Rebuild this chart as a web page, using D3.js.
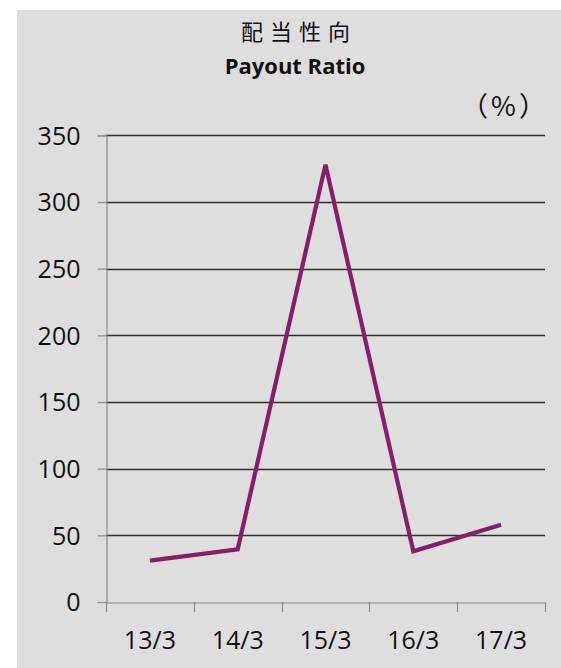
<!DOCTYPE html>
<html>
<head>
<meta charset="utf-8">
<script src="https://cdn.jsdelivr.net/npm/d3@7"></script>
<style>
html,body{margin:0;padding:0;background:#fff;}
svg{display:block;}
</style>
</head>
<body>
<svg id="chart" width="561" height="668"></svg>
<script>
const categories = ["13/3","14/3","15/3","16/3","17/3"];
const payoutRatio = [31, 39.5, 328, 38, 58];
const yTicks = [0,50,100,150,200,250,300,350];
const titleJa = "配当性向";
const titleEn = "Payout Ratio";
const unitLabel = "（%）";

(function(){
const svg = d3.select("#chart");
const W = 561, H = 668;
const font = "'Open Sans','Noto Sans CJK JP',sans-serif";

svg.append("rect").attr("x",17).attr("y",10).attr("width",W-17).attr("height",H-10).attr("fill","#dedede");

const pLeft = 106, pRight = 545, pTop = 135.3, pBottom = 602;
const x = d3.scaleBand().domain(categories).range([pLeft,pRight]);
const y = d3.scaleLinear().domain([0,350]).range([pBottom,pTop]);

// gridlines
svg.append("g").selectAll("line").data(yTicks.filter(d=>d>0)).join("line")
  .attr("x1",pLeft).attr("x2",pRight).attr("y1",d=>Math.round(y(d))+0.5).attr("y2",d=>Math.round(y(d))+0.5)
  .attr("stroke","#303030").attr("stroke-width",1.3);

// y axis
const yAxis = d3.axisLeft(y).tickValues(yTicks).tickSize(9).tickPadding(17);
const gy = svg.append("g").attr("transform",`translate(${pLeft+0.5},0)`).call(yAxis);
gy.select(".domain").attr("stroke","#8c8c8c").attr("stroke-width",1.2);
gy.selectAll(".tick line").attr("stroke","#8c8c8c").attr("stroke-width",1.2);
gy.selectAll(".tick text").attr("font-family",font).attr("font-size",25).attr("fill","#111").attr("dy","0.35em");

// x axis
const xAxis = d3.axisBottom(x).tickSize(0).tickPadding(0);
const gx = svg.append("g").attr("transform",`translate(0,${pBottom+0.5})`).call(xAxis);
gx.select(".domain").attr("stroke","#8c8c8c").attr("stroke-width",1.2);
gx.selectAll(".tick text").attr("font-family",font).attr("font-size",25).attr("fill","#111").attr("y",38).attr("dy","0.35em");
const boundaries = categories.map(c=>x(c)).concat([x(categories[categories.length-1])+x.bandwidth()]);
svg.append("g").selectAll("line").data(boundaries).join("line")
  .attr("x1",d=>Math.round(d)+0.5).attr("x2",d=>Math.round(d)+0.5)
  .attr("y1",pBottom).attr("y2",pBottom+10)
  .attr("stroke","#8c8c8c").attr("stroke-width",1.2);

// line
const line = d3.line().x((d,i)=>x(categories[i])+x.bandwidth()/2).y(d=>y(d));
svg.append("path").datum(payoutRatio).attr("d",line)
  .attr("fill","none").attr("stroke","#861f69").attr("stroke-width",4.2)
  .attr("stroke-linejoin","miter").attr("stroke-linecap","butt");

// titles
svg.append("text").attr("x",299).attr("y",40).attr("text-anchor","middle")
  .attr("font-family","'Noto Sans CJK JP',sans-serif").attr("font-size",22).attr("letter-spacing",7)
  .attr("fill","#111").text(titleJa);
svg.append("text").attr("x",295).attr("y",74).attr("text-anchor","middle")
  .attr("font-family",font).attr("font-weight","bold").attr("font-size",22)
  .attr("fill","#111").text(titleEn);
svg.append("text").attr("x",505).attr("y",116).attr("text-anchor","middle")
  .attr("font-family","'Noto Sans CJK JP',sans-serif").attr("font-size",27).attr("letter-spacing",3)
  .attr("fill","#111").text(unitLabel);
})();
</script>
</body>
</html>
